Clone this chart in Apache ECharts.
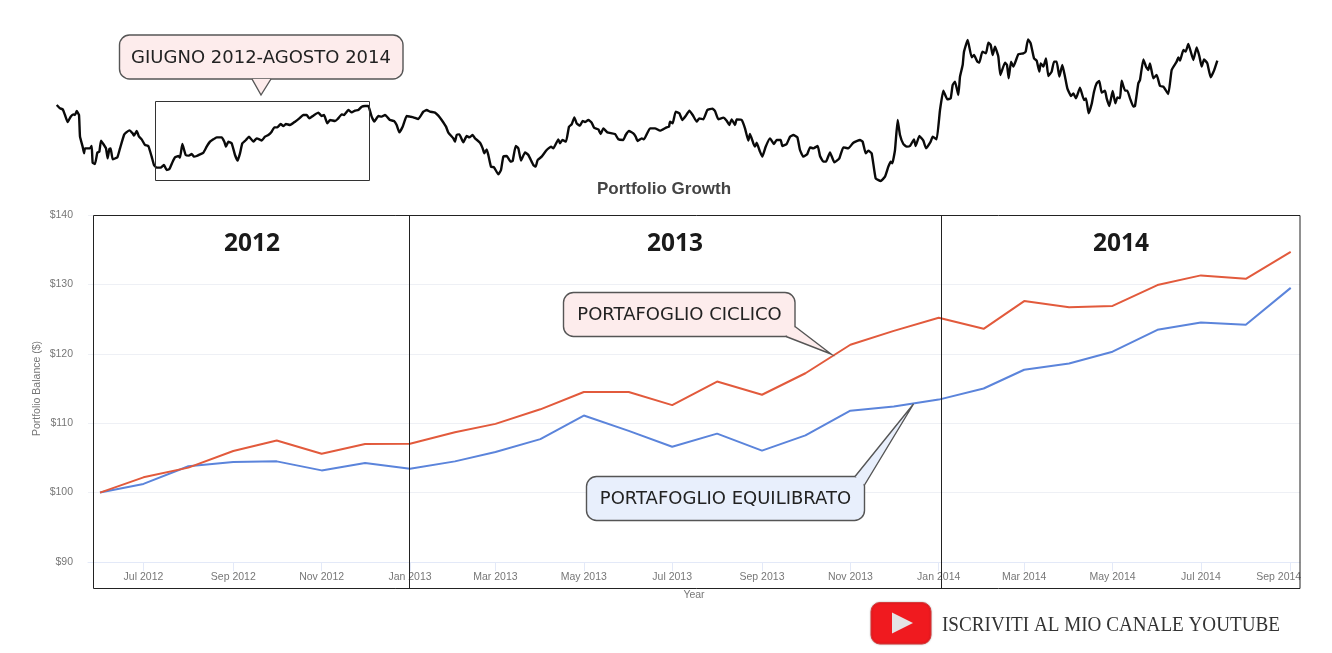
<!DOCTYPE html>
<html><head><meta charset="utf-8">
<style>html,body{margin:0;padding:0;background:#fff}#c{width:1332px;height:653px}</style>
<script src="https://cdn.jsdelivr.net/npm/echarts@6/dist/echarts.min.js"></script>
</head><body><div id="c"></div>
<script>
const months = ['2012-06','2012-07','2012-08','2012-09','2012-10','2012-11','2012-12','2013-01','2013-02','2013-03','2013-04','2013-05','2013-06','2013-07','2013-08','2013-09','2013-10','2013-11','2013-12','2014-01','2014-02','2014-03','2014-04','2014-05','2014-06','2014-07','2014-08','2014-09'];
const ciclico = [100,102.2,103.6,106,107.5,105.6,107,107.05,108.7,109.9,112,114.5,114.5,112.6,116,114.1,117.2,121.3,123.3,125.2,123.6,127.6,126.7,126.9,129.9,131.3,130.8,134.7];
const equilibrato = [100,101.25,103.8,104.4,104.5,103.2,104.25,103.45,104.5,105.85,107.7,111.1,108.9,106.6,108.5,106.05,108.25,111.8,112.4,113.4,115,117.7,118.6,120.3,123.45,124.5,124.2,129.5];
const tickMonths = ['2012-07','2012-09','2012-11','2013-01','2013-03','2013-05','2013-07','2013-09','2013-11','2014-01','2014-03','2014-05','2014-07','2014-09'];
const tickLabels = ['Jul 2012','Sep 2012','Nov 2012','Jan 2013','Mar 2013','May 2013','Jul 2013','Sep 2013','Nov 2013','Jan 2014','Mar 2014','May 2014','Jul 2014','Sep 2014'];
const yearLabels = ['2012','2013','2014'];

// Long-run price line above the chart: [step, level], in three stretches
const sparkA = [[50,245],[60,235],[68,232],[75,215],[83,194],[92,210],[100,217],[105,215],[110,227],[117,215],[120,150],[128,120],[132,100],[135,115],[150,115],[155,122],[158,72],[165,68],[172,102],[178,105],[183,138],[190,128],[198,115],[203,85],[208,113],[212,115],[218,82],[232,88],[240,115],[252,155],[258,162],[268,169],[278,160],[282,153],[290,167],[297,150],[305,142],[315,125],[325,122],[335,90],[342,65],[350,57],[362,57],[372,65],[380,50],[388,53],[398,75],[405,88],[415,92],[420,87],[427,128],[437,95],[447,93],[455,98],[462,90],[470,92],[480,97],[490,102],[500,120],[510,135],[520,142],[530,148],[545,148],[553,135],[558,120],[565,135],[575,130],[585,95],[593,78],[600,100],[607,130],[618,140],[627,150],[640,135],[650,145],[658,142],[665,138],[675,150],[685,155],[695,165],[703,178],[712,178],[722,188],[730,182],[738,188],[750,185],[765,195],[778,205],[790,215],[800,215],[808,205],[820,213],[835,222],[845,212],[852,215],[862,190],[870,200],[885,197],[893,203],[905,217],[912,215],[925,230],[935,223],[945,228],[955,230],[965,240],[975,242],[985,242],[995,210],[1003,195],[1015,212],[1025,210],[1035,215],[1050,200],[1062,197],[1070,185],[1078,163],[1088,180],[1100,212],[1110,210],[1120,208],[1135,203],[1150,225],[1160,230],[1170,225],[1185,222],[1195,213],[1205,200],[1218,180],[1225,162],[1240,145],[1245,135],[1250,155],[1258,157],[1270,133],[1280,152],[1288,148],[1298,155],[1305,145],[1320,132]];
const sparkB = [[38,115],[43,100],[50,112],[55,95],[63,60],[72,58],[85,37],[93,50],[100,90],[110,92],[122,75],[128,77],[137,122],[145,115],[153,78],[165,103],[175,95],[190,65],[197,60],[203,80],[215,90],[230,110],[243,120],[250,115],[265,142],[270,130],[277,140],[288,135],[297,180],[305,187],[313,208],[320,190],[330,183],[338,197],[345,194],[355,200],[365,192],[372,177],[385,172],[392,158],[400,175],[412,163],[435,158],[445,142],[460,140],[467,155],[477,167],[490,160],[497,150],[503,137],[515,145],[522,142],[540,175],[555,175],[570,168],[590,178],[597,180],[600,195],[608,190],[617,225],[628,220],[637,200],[647,212],[658,228],[668,215],[680,195],[688,205],[700,202],[712,230],[727,234],[735,227],[745,202],[760,207],[770,198],[778,185],[785,202],[795,185],[800,202],[815,200],[825,175],[835,138],[840,158],[850,130],[855,120],[860,132],[870,105],[877,90],[887,120],[900,145],[912,128],[920,140],[932,140],[937,122],[950,128],[960,150],[970,155],[982,148],[990,110],[1000,90],[1012,98],[1020,118],[1030,115],[1043,122],[1050,92],[1060,75],[1068,75],[1080,103],[1093,73],[1108,85],[1120,118],[1135,115],[1150,132],[1170,140],[1178,135],[1187,100],[1195,108],[1205,100],[1217,25],[1232,17],[1245,30],[1255,60],[1262,75],[1267,70],[1275,110],[1283,200],[1290,155],[1300,128],[1310,120],[1320,122]];
const sparkC = [[162,142],[167,122],[178,152],[190,138],[198,115],[212,135],[218,150],[230,142],[240,230],[250,288],[262,262],[272,265],[278,305],[285,315],[295,275],[300,330],[308,365],[312,405],[323,440],[335,388],[342,395],[352,375],[358,372],[367,405],[378,400],[385,432],[392,425],[398,395],[405,420],[415,390],[421,335],[435,372],[441,365],[446,325],[453,375],[460,360],[475,397],[490,400],[497,405],[504,442],[512,430],[522,385],[530,378],[538,345],[542,370],[550,360],[558,385],[565,332],[575,345],[582,375],[590,375],[598,330],[607,365],[615,330],[622,295],[633,272],[640,280],[648,265],[660,297],[672,260],[678,265],[686,220],[695,248],[702,285],[710,310],[718,317],[725,282],[735,288],[740,265],[748,242],[758,287],[766,250],[772,268],[780,265],[785,318],[795,288],[802,288],[810,265],[820,240],[825,242],[835,310],[840,320],[850,382],[858,360],[865,350],[870,370],[880,325],[890,335],[900,302],[910,300],[925,278],[935,350],[950,375],[955,388],[960,378],[970,410],[977,405],[985,428],[1000,380],[1010,418],[1018,392],[1025,360],[1032,382],[1042,370],[1052,328],[1062,348],[1072,378]];

const SANS = '"Liberation Sans", Arial, sans-serif';
const CALL = '"DejaVu Sans", Tahoma, sans-serif';
const YEARFONT = '"Noto Sans", sans-serif';
const ts = m => Date.parse(m + '-01T00:00:00Z');
const tickTs = tickMonths.map(ts);
const toSeries = arr => months.map((m, i) => [ts(m), arr[i]]);
const sparkData = [...sparkA, ...sparkB.map(([d, v]) => [d + 1290, v]), ...sparkC.map(([d, v]) => [d + 2460, v])];

// Callout: rounded box, pointer fill that hides the box edge at its base, then the two pointer edges
function bubble(x, y, w, h, fill, tail) {
  const stroke = '#555';
  return [
    { type: 'rect', z: 20, shape: { x, y, width: w, height: h, r: 10 }, style: { fill, stroke, lineWidth: 1.4 } },
    { type: 'polygon', z: 21, shape: { points: tail }, style: { fill, stroke: 'none' } },
    { type: 'polyline', z: 22, shape: { points: tail }, style: { fill: 'none', stroke, lineWidth: 1.4 } }
  ];
}
function label(x, y, text, font, color) {
  return { type: 'text', z: 23, x, y, style: { text, font, fill: color || '#222', align: 'center', verticalAlign: 'middle' } };
}
function vline(x) {
  return { type: 'line', z: 15, shape: { x1: x, y1: 215, x2: x, y2: 589 }, style: { stroke: '#222', lineWidth: 1 } };
}

const chart = echarts.init(document.getElementById('c'), null, { renderer: 'canvas' });
chart.setOption({
  animation: false,
  backgroundColor: '#fff',
  title: {
    text: 'Portfolio Growth', left: 659, top: 176, textAlign: 'center',
    textStyle: { fontFamily: SANS, fontSize: 17, fontWeight: 'bold', color: '#444' }
  },
  grid: [
    { left: 88, top: 215, width: 1212, height: 347 },
    { left: 40, top: 20, width: 1200, height: 166.67 }
  ],
  xAxis: [
    {
      type: 'value', gridIndex: 0, scale: true,
      min: Date.UTC(2012, 4, 23, 17), max: Date.UTC(2014, 8, 7, 10),
      name: 'Year', nameLocation: 'middle', nameGap: 28,
      nameTextStyle: { fontFamily: SANS, fontSize: 10.5, color: '#777' },
      axisLine: { onZero: false, lineStyle: { color: '#e3e9f8', width: 1 } },
      axisTick: { show: true, length: 9, inside: false, customValues: tickTs, lineStyle: { color: '#e3e9f8' } },
      splitLine: { show: false },
      axisLabel: {
        customValues: tickTs, margin: 10, fontFamily: SANS, fontSize: 10.5, color: '#777', showMinLabel: true, showMaxLabel: true, hideOverlap: false,
        formatter: v => {
          const i = tickTs.indexOf(v);
          return i === tickLabels.length - 1 ? '{last|' + tickLabels[i] + '}' : tickLabels[i];
        },
        rich: { last: { fontFamily: SANS, fontSize: 10.5, color: '#777', padding: [0, 24, 0, 0] } }
      }
    },
    { type: 'value', gridIndex: 1, show: false, min: 0, max: 3600 }
  ],
  yAxis: [
    {
      type: 'value', gridIndex: 0, min: 90, max: 140, interval: 10,
      name: 'Portfolio Balance ($)', nameLocation: 'middle', nameGap: 45, nameMoveOverlap: false,
      nameTextStyle: { fontFamily: SANS, fontSize: 10.5, color: '#777' },
      axisLine: { show: false }, axisTick: { show: false },
      splitLine: { lineStyle: { color: '#eef0f5', width: 1 } },
      axisLabel: { margin: 15, fontFamily: SANS, fontSize: 10.5, color: '#777', formatter: v => '$' + v }
    },
    { type: 'value', gridIndex: 1, show: false, min: 0, max: 500 }
  ],
  series: [
    { name: 'Portafoglio equilibrato', type: 'line', xAxisIndex: 0, yAxisIndex: 0, data: toSeries(equilibrato), symbol: 'none', lineStyle: { color: '#5b84db', width: 2 } },
    { name: 'Portafoglio ciclico', type: 'line', xAxisIndex: 0, yAxisIndex: 0, data: toSeries(ciclico), symbol: 'none', lineStyle: { color: '#e25a3c', width: 2 } },
    { name: 'Prezzo', type: 'line', xAxisIndex: 1, yAxisIndex: 1, data: sparkData, symbol: 'none', smooth: 0.12, lineStyle: { color: '#0a0a0a', width: 2.4, join: 'round' } }
  ],
  graphic: { elements: [
    { type: 'rect', z: 15, shape: { x: 93.5, y: 215.5, width: 1206.5, height: 373 }, style: { fill: 'none', stroke: '#222', lineWidth: 1 } },
    vline(409.5), vline(941.5),
    label(252, 244, yearLabels[0], 'bold 24.5px ' + YEARFONT, '#1a1a1a'),
    label(675, 244, yearLabels[1], 'bold 24.5px ' + YEARFONT, '#1a1a1a'),
    label(1121, 244, yearLabels[2], 'bold 24.5px ' + YEARFONT, '#1a1a1a'),
    { type: 'rect', z: 15, shape: { x: 155.5, y: 101.5, width: 214, height: 79 }, style: { fill: 'none', stroke: '#333', lineWidth: 1 } },
    ...bubble(119.5, 35, 283.5, 44, '#fdecec', [[252, 79], [261, 95], [271, 79]]),
    label(261, 58, 'GIUGNO 2012-AGOSTO 2014', '18px ' + CALL),
    ...bubble(563.5, 292.5, 231.5, 44, '#fdecec', [[795, 326.5], [831, 354], [786, 336.5]]),
    label(679.5, 315, 'PORTAFOGLIO CICLICO', '18px ' + CALL),
    ...bubble(586.5, 476.5, 278, 44, '#e8effc', [[855, 476.5], [913.5, 404], [864.5, 485]]),
    label(725.5, 499, 'PORTAFOGLIO EQUILIBRATO', '18px ' + CALL),
    { type: 'rect', z: 20, shape: { x: 871, y: 602.5, width: 60, height: 41.5, r: 9 }, style: { fill: '#f01a1f', stroke: '#d93a3a', lineWidth: 1, shadowBlur: 2, shadowColor: 'rgba(0,0,0,0.25)' } },
    { type: 'polygon', z: 21, shape: { points: [[892, 612.5], [892, 633.5], [913, 623]] }, style: { fill: '#e4e4e4' } },
    { type: 'text', z: 21, x: 942, y: 625.5, scaleX: 0.911, style: { text: 'ISCRIVITI AL MIO CANALE YOUTUBE', font: '21px "Liberation Serif", serif', fill: '#333', align: 'left', verticalAlign: 'middle' } }
  ] }
});
</script></body></html>
